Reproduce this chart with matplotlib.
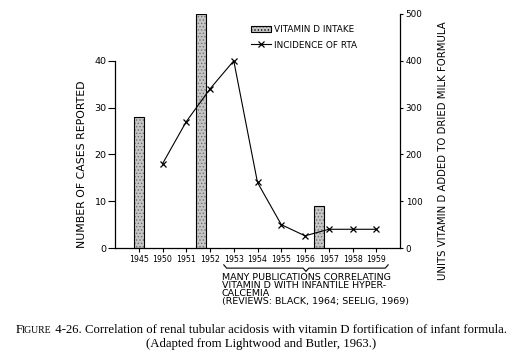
"""
Vitamin D intake vs incidence of renal tubular acidosis (Lightwood & Butler, 1963)
"""

import matplotlib
matplotlib.use('Agg')
import matplotlib.pyplot as plt
from matplotlib.lines import Line2D
from matplotlib.patches import Patch

years = ['1945', '1950', '1951', '1952', '1953', '1954', '1955', '1956', '1957', '1958', '1959']

# incidence of RTA (left axis), 1950-1959
rta_years = ['1950', '1951', '1952', '1953', '1954', '1955', '1956', '1957', '1958', '1959']
rta_cases = [18, 27, 34, 40, 14, 5, 2.6, 4, 4, 4]

# vitamin D intake (right axis); bars sit between year ticks
vit_pos = [0, 2.62, 7.6]
vit_units = [280, 500, 90]

note_text = ('MANY PUBLICATIONS CORRELATING\n'
             'VITAMIN D WITH INFANTILE HYPER-\n'
             'CALCEMIA\n'
             '(REVIEWS: BLACK, 1964; SEELIG, 1969)')

plt.rcParams['font.family'] = ['DejaVu Sans']
plt.rcParams['hatch.color'] = '#6e6e6e'
plt.rcParams['hatch.linewidth'] = 0.6
W, H = 522, 358
fig = plt.figure(figsize=(W / 100, H / 100), dpi=100)


def px(x, y):
    return x / W, 1 - y / H


ax = fig.add_axes([115 / W, 110 / H, 285 / W, 234 / H])
ax2 = ax.twinx()

x_idx = list(range(len(years)))
rta_idx = [years.index(y) for y in rta_years]

bar_face = '#c6c6c6'
ax2.bar(vit_pos, vit_units, width=0.42, facecolor=bar_face, edgecolor='#6e6e6e',
        linewidth=0, hatch='.....', zorder=2)
ax2.bar(vit_pos, vit_units, width=0.42, fill=False, edgecolor='black',
        linewidth=0.8, zorder=2.1)

ax.plot(rta_idx, rta_cases, color='black', linewidth=0.8, marker='x',
        markersize=4.5, markeredgewidth=0.9, zorder=3)
ax.set_zorder(ax2.get_zorder() + 1)
ax.patch.set_visible(False)

ax.set_xlim(-1, 11)
ax.set_ylim(0, 50)
ax2.set_ylim(0, 500)

ax.set_xticks(x_idx)
ax.set_xticklabels(years, fontsize=5.7)
ax.set_yticks([0, 10, 20, 30, 40])
ax.tick_params(axis='y', labelsize=6.8, length=5, width=0.8, pad=1)
ax.tick_params(axis='x', length=3, width=0.8, pad=2.2)
ax2.set_yticks([0, 100, 200, 300, 400, 500])
ax2.tick_params(axis='y', labelsize=6.3, length=2, width=0.8, pad=2)

for a in (ax, ax2):
    a.spines['top'].set_visible(False)
    for s in a.spines.values():
        s.set_linewidth(0.9)
ax.spines['right'].set_visible(False)
ax2.spines['left'].set_visible(False)
ax2.spines['bottom'].set_visible(False)
ax.spines['left'].set_bounds(0, 40)

ax.set_ylabel('NUMBER OF CASES REPORTED', fontsize=7.8)
ax.yaxis.set_label_coords(-0.098, 0.36)
ax2.set_ylabel('UNITS VITAMIN D ADDED TO DRIED MILK FORMULA', fontsize=7.3)
ax2.yaxis.set_label_coords(1.133, 0.415)

handles = [
    Patch(facecolor=bar_face, edgecolor='black', hatch='.....', linewidth=0.8),
    Line2D([], [], color='black', linewidth=0.8, marker='x', markersize=4.5, markeredgewidth=0.9),
]
fig.legend(handles, ['VITAMIN D INTAKE', 'INCIDENCE OF RTA'], loc='upper left',
           bbox_to_anchor=px(251, 25), frameon=False, fontsize=6.4,
           handlelength=2.3, handleheight=0.8, handletextpad=0.3, labelspacing=0.75,
           borderpad=0, borderaxespad=0)

# brace under 1953-1959
b0 = years.index('1953') - 0.42
b1 = years.index('1959') + 0.5
bm = (b0 + b1) / 2
yt, ym, yb = -3.6, -4.3, -5.0
ax.plot([b0, b0 + 0.12, bm - 0.12, bm, bm + 0.12, b1 - 0.12, b1],
        [yt, ym, ym, yb, ym, ym, yt], color='black', linewidth=0.8, clip_on=False)

fig.text(*px(222, 272.5), note_text, fontsize=6.8, ha='left', va='top', linespacing=0.86)

# caption with small caps "FIGURE"
renderer = fig.canvas.get_renderer()
pieces = [('F', 9.2), ('IGURE', 7),
          (' 4-26. Correlation of renal tubular acidosis with vitamin D fortification of infant formula.', 9.2)]
texts = []
for s, fs in pieces:
    texts.append(fig.text(0, 1 - 333 / H, s, fontsize=fs, family='Liberation Serif',
                          ha='left', va='baseline'))
widths = [t.get_window_extent(renderer).width for t in texts]
x0 = (W - sum(widths)) / 2
for t, w in zip(texts, widths):
    t.set_x(x0 / W)
    x0 += w
fig.text(0.5, 1 - 347 / H, '(Adapted from Lightwood and Butler, 1963.)', fontsize=9.2,
         family='Liberation Serif', ha='center', va='baseline')

fig.savefig('out.png', dpi=100)
